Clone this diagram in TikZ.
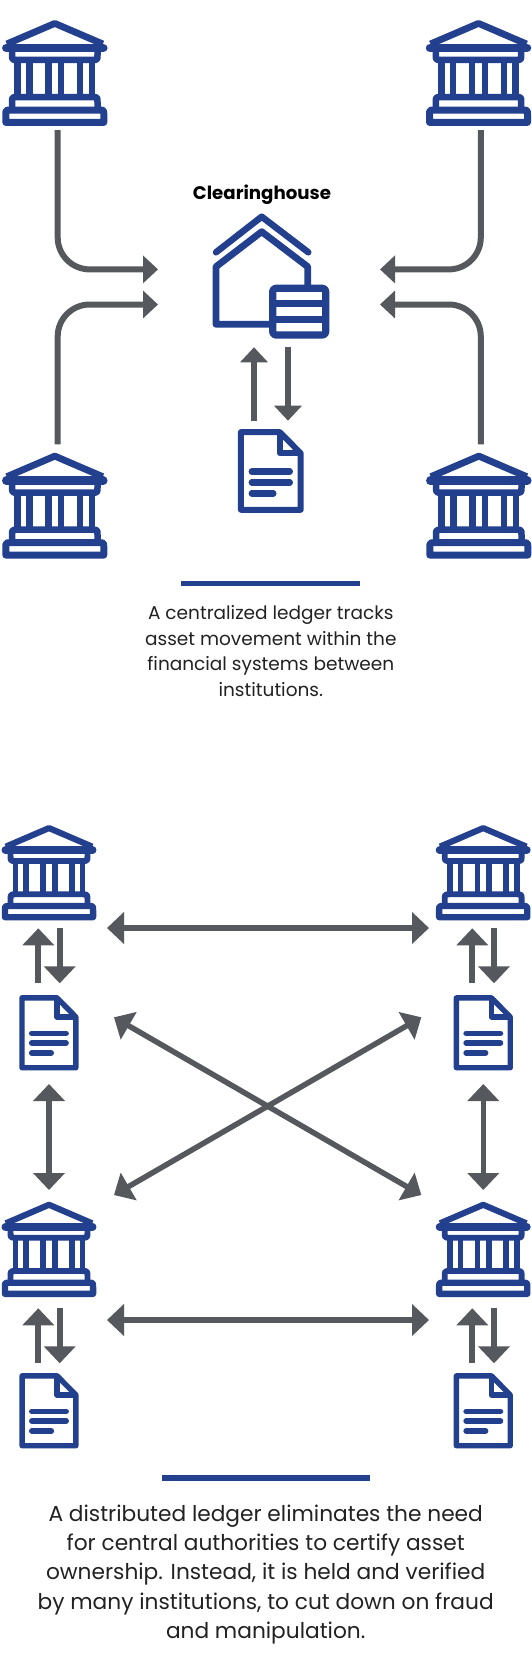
\documentclass[tikz,border=0pt]{standalone}
\usepackage{fontspec}
\setmainfont{Poppins}
\usetikzlibrary{arrows.meta}
\definecolor{iconblue}{HTML}{23408E}
\definecolor{arrowgray}{HTML}{55585C}
\definecolor{bodyink}{HTML}{222222}
\tikzset{
  iconline/.style={draw=iconblue,line cap=butt,line join=round},
  bigarrow/.style={draw=arrowgray,line width=6pt,-{Triangle[length=15pt,width=27pt,fill=arrowgray]}},
  smallarrow/.style={draw=arrowgray,line width=6pt,-{Triangle[length=17pt,width=31pt,fill=arrowgray]}},
  twoway/.style={draw=arrowgray,line width=5.5pt,{Triangle[length=17pt,width=31pt,fill=arrowgray]}-{Triangle[length=17pt,width=31pt,fill=arrowgray]}},
  rulebar/.style={fill=iconblue,draw=none},
  captionA/.style={text=bodyink,align=center,inner sep=0pt,font=\fontsize{18.5}{25.4}\selectfont},
  captionB/.style={text=bodyink,align=center,inner sep=0pt,font=\fontsize{21.7}{29.35}\selectfont},
}
% name, centre x, top y, scale
\newcommand{\bankicon}[4]{%
  \coordinate (#1) at (#2,#3);
  \begin{scope}[shift={(#2,#3)},scale=#4,iconline]
    \draw[line width=6.8pt*#4] (-48,24) -- (0,3.4) -- (48,24);
    \draw[line width=8.5pt*#4,line cap=round] (-48.5,28) -- (48.5,28);
    \draw[line width=6.5pt*#4] (-42.7,30) -- (-42.7,35) .. controls (-42.7,40) .. (-37,40) -- (37,40) .. controls (42.7,40) .. (42.7,35) -- (42.7,30);
    \foreach \cx in {-37.2,-25.3,-6.3,6.3,25.3,37.2} \draw[line width=6.5pt*#4] (\cx,40) -- (\cx,77);
    \draw[line width=6.5pt*#4] (-42.7,90) -- (-42.7,82) .. controls (-42.7,77) .. (-37,77) -- (37,77) .. controls (42.7,77) .. (42.7,82) -- (42.7,90);
    \draw[line width=7pt*#4] (-49,102.4) -- (-49,95) .. controls (-49,90) .. (-44,90) -- (44,90) .. controls (49,90) .. (49,95) -- (49,102.4) -- cycle;
  \end{scope}}
\newcommand{\docicon}[4]{%
  \coordinate (#1) at (#2,#3);
  \begin{scope}[shift={(#2,#3)},scale=#4,iconline]
    \draw[line width=6pt*#4] (-29.9,2.8) -- (9,2.8) -- (29.9,24) -- (29.9,80.5) -- (-29.9,80.5) -- cycle;
    \draw[line width=6pt*#4] (9,2.8) -- (9,24) -- (29.9,24);
    \draw[line width=6.4pt*#4,line cap=round] (-19,42.3) -- (19,42.3);
    \draw[line width=6.4pt*#4,line cap=round] (-19,53) -- (19,53);
    \draw[line width=6.4pt*#4,line cap=round] (-19,64) -- (2.5,64);
  \end{scope}}
\begin{document}
\begin{tikzpicture}[x=1pt,y=-1pt]
\useasboundingbox[fill=white] (0,0) rectangle (532,1662);

% --- centralized ledger
\bankicon{bankTL}{54.8}{20}{1}
\bankicon{bankTR}{478.5}{20}{1}
\bankicon{bankBL}{54.8}{452.7}{1}
\bankicon{bankBR}{478.8}{452.7}{1}
\docicon{docC}{270.8}{429.3}{1}

\node[inner sep=0pt,anchor=base,font=\fontsize{18.2}{20}\selectfont\bfseries,text=black] (chlabel) at (262,199.5) {Clearinghouse};

% clearinghouse icon
\begin{scope}[iconline]
  \draw[line width=6.5pt,line cap=round] (216,252.3) -- (261.7,216.7) -- (308.3,252.3);
  \draw[line width=6.8pt] (272.7,324.3) -- (216,324.3) -- (216,266.7) -- (261.7,231.7) -- (307.7,266.7) -- (307.7,288);
  \draw[line width=7.2pt,rounded corners=3pt] (272.7,288.3) rectangle (325.7,335);
  \draw[line width=7.2pt] (272.7,303.8) -- (325.7,303.8);
  \draw[line width=7.2pt] (272.7,319.5) -- (325.7,319.5);
\end{scope}
\node[inner sep=0pt,minimum size=0pt] (house) at (270,276) {};

% connectors to the clearinghouse
\coordinate (tlS) at (57.7,130);   \coordinate (tlE) at (158,269.4);
\coordinate (blS) at (57.7,444.3); \coordinate (blE) at (158,304.5);
\coordinate (trS) at (480.8,130);  \coordinate (trE) at (380,269.4);
\coordinate (brS) at (480.8,444.3);\coordinate (brE) at (380,304.5);
\foreach \a/\b in {tlS/tlE,blS/blE,trS/trE,brS/brE}
  \draw[bigarrow,rounded corners=32pt] (\a) |- (\b);

\coordinate (cuS) at (254,420.7); \coordinate (cuE) at (254,347.3);
\coordinate (cdS) at (288,347.3); \coordinate (cdE) at (288,420.7);
\draw[bigarrow] (cuS) -- (cuE);
\draw[bigarrow] (cdS) -- (cdE);

\fill[rulebar] (181.2,580.6) rectangle (360,586);
\node[captionA] (capA) at (270.8,651) {A centralized ledger tracks\\asset movement within the\\financial systems between\\institutions.};

% --- distributed ledger
\bankicon{b1}{49}{825}{0.9}
\bankicon{b2}{483.2}{825}{0.9}
\bankicon{b3}{49}{1201.7}{0.9}
\bankicon{b4}{483.2}{1201.7}{0.9}
\docicon{d1}{48.9}{995.3}{0.9}
\docicon{d2}{483.3}{995.3}{0.9}
\docicon{d3}{49}{1373.3}{0.9}
\docicon{d4}{483.3}{1373.3}{0.9}

% bank to document pairs
\foreach \n/\ux/\dx/\ya/\yb in {p/38.3/59.7/928.3/983.3,q/472.3/494/928.3/983.3,r/38.3/59.7/1308.3/1363.3,s/472.3/494/1308.3/1363.3}{
  \coordinate (\n a) at (\ux,\yb); \coordinate (\n b) at (\ux,\ya);
  \coordinate (\n c) at (\dx,\ya); \coordinate (\n d) at (\dx,\yb);
  \draw[smallarrow] (\n a) -- (\n b);
  \draw[smallarrow] (\n c) -- (\n d);
}

\coordinate (h1a) at (107,928);    \coordinate (h1b) at (429,928);
\coordinate (h2a) at (107,1320);   \coordinate (h2b) at (429,1320);
\coordinate (v1a) at (49,1084);    \coordinate (v1b) at (49,1190);
\coordinate (v2a) at (483.3,1084); \coordinate (v2b) at (483.3,1190);
\coordinate (x1a) at (114,1017.3); \coordinate (x1b) at (421.3,1195);
\coordinate (x2a) at (421.3,1017.3);\coordinate (x2b) at (114,1195);
\foreach \a/\b in {h1a/h1b,h2a/h2b,v1a/v1b,v2a/v2b,x1a/x1b,x2a/x2b}
  \draw[twoway] (\a) -- (\b);

\fill[rulebar] (161.9,1474.9) rectangle (369.9,1480.6);
\node[captionB] (capB) at (265.7,1574.4) {A distributed ledger eliminates the need\\for central authorities to certify asset\\ownership. Instead, it is held and verified\\by many institutions, to cut down on fraud\\and manipulation.};
\end{tikzpicture}
\end{document}
